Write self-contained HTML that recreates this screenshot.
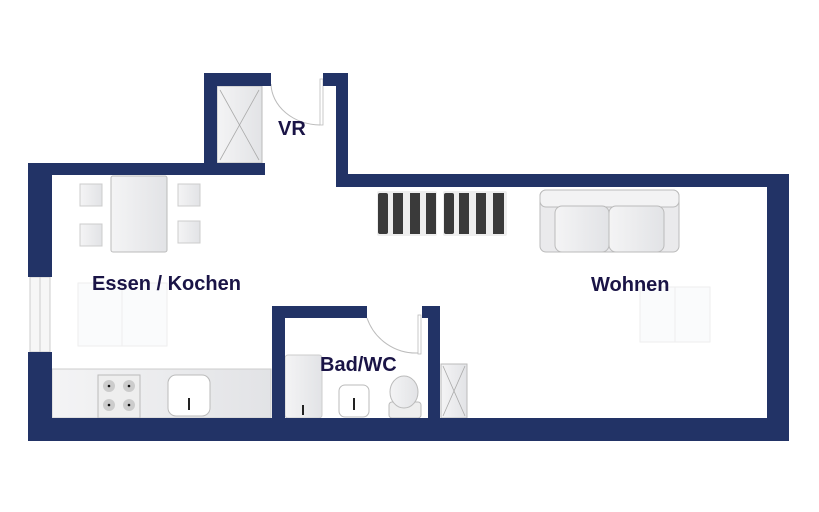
<!DOCTYPE html>
<html><head><meta charset="utf-8"><style>
html,body{margin:0;padding:0;background:#fff;}
svg{display:block;}
text{font-family:"Liberation Sans",sans-serif;font-weight:bold;fill:#1a1446;}
</style></head><body>
<svg width="819" height="512" viewBox="0 0 819 512" xmlns="http://www.w3.org/2000/svg">
<defs>
<linearGradient id="g" x1="0" y1="0" x2="1" y2="0"><stop offset="0" stop-color="#f4f4f5"/><stop offset="1" stop-color="#e2e3e6"/></linearGradient>
</defs>
<rect width="819" height="512" fill="#fff"/>
<rect x="217" y="86" width="45" height="77" fill="url(#g)" stroke="#bbb" stroke-width="1"/>
<path d="M220 90 L259 160 M259 90 L220 160" stroke="#aaa" stroke-width="0.8"/>
<path d="M271 84 A50 42 0 0 0 320 125" fill="none" stroke="#bbb" stroke-width="1"/>
<rect x="320" y="79" width="3" height="46" fill="#fff" stroke="#bbb" stroke-width="0.8"/>
<rect x="111" y="176" width="56" height="76" rx="2" fill="url(#g)" stroke="#bbb"/>
<rect x="80" y="184" width="22" height="22" fill="url(#g)" stroke="#ccc"/>
<rect x="80" y="224" width="22" height="22" fill="url(#g)" stroke="#ccc"/>
<rect x="178" y="184" width="22" height="22" fill="url(#g)" stroke="#ccc"/>
<rect x="178" y="221" width="22" height="22" fill="url(#g)" stroke="#ccc"/>
<rect x="78" y="283" width="89" height="63" fill="#fafbfc" stroke="#eee"/>
<line x1="122" y1="283" x2="122" y2="346" stroke="#eee"/>
<rect x="640" y="287" width="70" height="55" fill="#fafbfc" stroke="#eee"/>
<line x1="675" y1="287" x2="675" y2="342" stroke="#eee"/>
<g fill="#3a3a3a">
<rect x="377" y="191" width="60" height="45" fill="#eee" rx="2"/>
<rect x="378" y="193" width="10" height="41" rx="2"/><rect x="393" y="193" width="10" height="41"/><rect x="410" y="193" width="10" height="41"/><rect x="426" y="193" width="10" height="41"/>
<rect x="443" y="191" width="64" height="45" fill="#eee" rx="2"/>
<rect x="444" y="193" width="10" height="41" rx="2"/><rect x="459" y="193" width="10" height="41"/><rect x="476" y="193" width="10" height="41"/><rect x="493" y="193" width="11" height="41"/>
</g>
<rect x="540" y="190" width="139" height="62" rx="6" fill="#eaeaec" stroke="#bbb"/>
<rect x="540" y="190" width="139" height="17" rx="6" fill="#f3f3f4" stroke="#bbb"/>
<rect x="555" y="206" width="54" height="46" rx="7" fill="url(#g)" stroke="#bbb"/>
<rect x="609" y="206" width="55" height="46" rx="7" fill="url(#g)" stroke="#bbb"/>
<rect x="52" y="369" width="219" height="49" fill="url(#g)" stroke="#ccc"/>
<rect x="98" y="375" width="42" height="43" fill="#eee" stroke="#bbb"/>
<g fill="#ccc"><circle cx="109" cy="386" r="6"/><circle cx="129" cy="386" r="6"/><circle cx="109" cy="405" r="6"/><circle cx="129" cy="405" r="6"/></g>
<g fill="#111"><circle cx="109" cy="386" r="1.3"/><circle cx="129" cy="386" r="1.3"/><circle cx="109" cy="405" r="1.3"/><circle cx="129" cy="405" r="1.3"/></g>
<rect x="168" y="375" width="42" height="41" rx="8" fill="#fff" stroke="#bbb"/>
<rect x="188" y="398" width="2" height="12" fill="#222"/>
<rect x="285" y="355" width="37" height="63" rx="3" fill="url(#g)" stroke="#ccc"/>
<rect x="302" y="405" width="2" height="10" fill="#222"/>
<rect x="339" y="385" width="30" height="32" rx="6" fill="#fff" stroke="#bbb"/>
<rect x="353" y="398" width="2" height="12" fill="#222"/>
<rect x="389" y="402" width="32" height="16" rx="3" fill="#eee" stroke="#bbb"/>
<ellipse cx="404" cy="392" rx="14" ry="16" fill="url(#g)" stroke="#bbb"/>
<path d="M367 318 A52 52 0 0 0 418 353" fill="none" stroke="#bbb"/>
<rect x="418" y="315" width="3" height="39" fill="#fff" stroke="#bbb" stroke-width="0.8"/>
<rect x="441" y="364" width="26" height="54" fill="url(#g)" stroke="#bbb"/>
<path d="M443 366 L465 416 M465 366 L443 416" stroke="#aaa" stroke-width="0.8"/>
<rect x="30" y="277" width="20" height="75" fill="#f6f6f6" stroke="#ccc"/>
<line x1="40" y1="277" x2="40" y2="352" stroke="#ccc"/>
<g fill="#223366">
<rect x="28" y="163" width="24" height="114"/>
<rect x="28" y="352" width="24" height="89"/>
<rect x="28" y="163" width="237" height="12"/>
<rect x="204" y="73" width="13" height="102"/>
<rect x="204" y="73" width="67" height="13"/>
<rect x="323" y="73" width="25" height="13"/>
<rect x="336" y="73" width="12" height="114"/>
<rect x="336" y="174" width="453" height="13"/>
<rect x="767" y="174" width="22" height="267"/>
<rect x="28" y="418" width="761" height="23"/>
<rect x="272" y="306" width="13" height="115"/>
<rect x="272" y="306" width="95" height="12"/>
<rect x="422" y="306" width="18" height="12"/>
<rect x="428" y="306" width="12" height="115"/>
</g>
<text x="278" y="135" font-size="20">VR</text>
<text x="92" y="290" font-size="20">Essen / Kochen</text>
<text x="320" y="371" font-size="20">Bad/WC</text>
<text x="591" y="291" font-size="20">Wohnen</text>
</svg>
</body></html>
